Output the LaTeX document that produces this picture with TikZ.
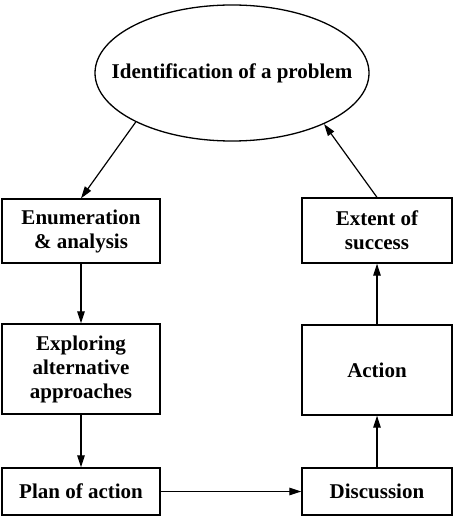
\documentclass[tikz,border=0pt]{standalone}
\usepackage{fontspec}
\setmainfont{Liberation Serif}
\usetikzlibrary{shapes.geometric,arrows.meta}
\begin{document}
\begin{tikzpicture}[x=1pt,y=-1pt,
  every node/.style={font=\bfseries\fontsize{21}{24}\selectfont, align=center, inner sep=0pt},
  stagebox/.style={draw, line width=1.3pt, rectangle},
  leftbox/.style={stagebox, minimum width=158pt},
  rightbox/.style={stagebox, minimum width=150pt},
  flow/.style={line width=1.2pt, -{Triangle[length=12pt,width=7.5pt]}}]
  \useasboundingbox[fill=white] (0,0) rectangle (454,518);

  % central problem statement (text kept out of the shape's size computation)
  \node[draw, ellipse, line width=1.3pt, minimum width=274pt, minimum height=136pt] (ident) at (232,73) {\makebox[0pt]{Identification of a problem}};

  % left column: analysing and planning
  \node[leftbox, minimum height=64pt] (enum) at (81,231) {Enumeration\\\& analysis};
  \node[leftbox, minimum height=90pt] (explore) at (81,369) {Exploring\\alternative\\approaches};
  \node[leftbox, minimum height=47pt] (plan) at (81,491.5) {Plan of action};

  % right column: acting and evaluating
  \node[rightbox, minimum height=65pt] (extent) at (377,230.5) {Extent of\\success};
  \node[rightbox, minimum height=90pt] (action) at (377,370) {Action};
  \node[rightbox, minimum height=47pt] (disc) at (377,491.5) {Discussion};

  % cycle connectors
  \draw[flow] (ident.207) -- (enum.north);
  \draw[flow] (enum) -- (explore);
  \draw[flow] (explore) -- (plan);
  \draw[flow] (plan) -- (disc);
  \draw[flow] (disc) -- (action);
  \draw[flow] (action) -- (extent);
  \draw[flow] (extent.north) -- (ident.331);
\end{tikzpicture}
\end{document}
